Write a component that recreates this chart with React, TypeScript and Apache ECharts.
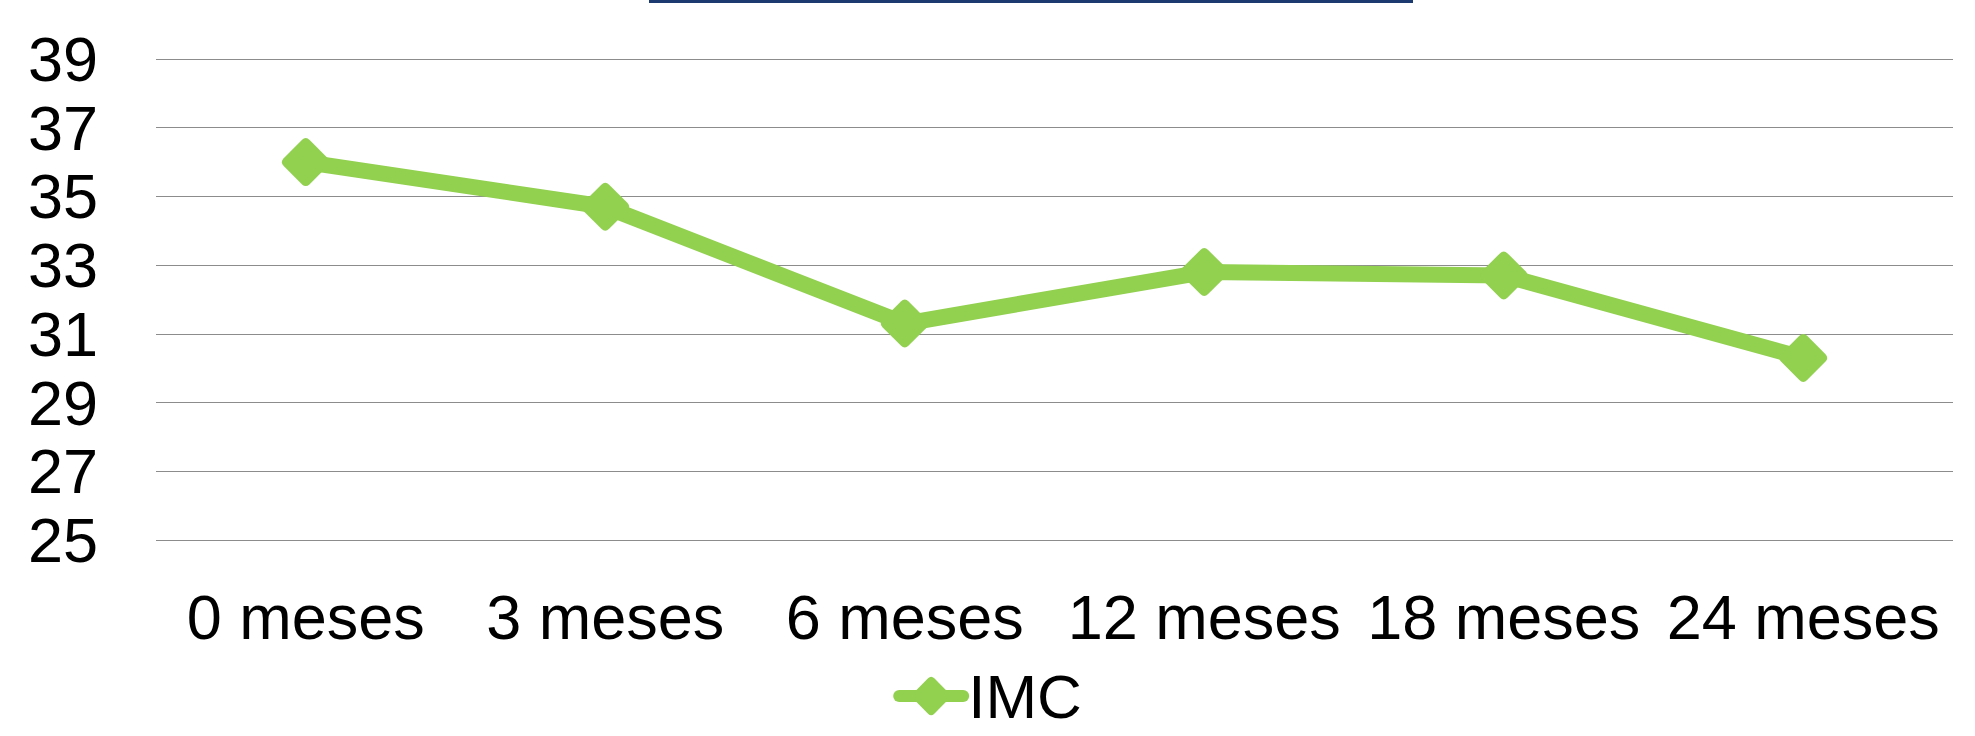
import React, { useEffect, useRef } from "react";
import * as echarts from "echarts";

const categories = ["0 meses", "3 meses", "6 meses", "12 meses", "18 meses", "24 meses"];
const imcValues = [36.0, 34.7, 31.3, 32.8, 32.7, 30.3];
const seriesName = "IMC";
const yMin = 25;
const yMax = 39;
const yStep = 2;

const diamond =
  "path://M-1.5,-8.5 Q0,-10 1.5,-8.5 L8.5,-1.5 Q10,0 8.5,1.5 L1.5,8.5 Q0,10 -1.5,8.5 L-8.5,1.5 Q-10,0 -8.5,-1.5 Z";

export default function App() {
  const ref = useRef<HTMLDivElement>(null);
  useEffect(() => {
    if (!ref.current) return;
    const chart = echarts.init(ref.current, null, { renderer: "svg" });
    const font = "'Liberation Sans', Arial, sans-serif";
    chart.setOption({
      animation: false,
      backgroundColor: "#ffffff",
      textStyle: { fontFamily: font },
      graphic: [
        {
          type: "rect",
          shape: { x: 649, y: 0, width: 764, height: 3 },
          style: { fill: "#1c3a70" },
        },
      ],
      grid: { left: 156, right: 22, top: 59, bottom: 196, containLabel: false },
      legend: {
        data: [seriesName],
        bottom: 4,
        left: "center",
        itemWidth: 64,
        itemHeight: 48,
        itemGap: 10,
        lineStyle: { width: 12, cap: "round" },
        textStyle: { fontSize: 62, color: "#000", fontFamily: font },
      },
      xAxis: {
        type: "category",
        data: categories,
        boundaryGap: true,
        axisLine: { show: false },
        axisTick: { show: false },
        axisLabel: { fontSize: 63, color: "#000", margin: 45, fontFamily: font, interval: 0 },
      },
      yAxis: {
        type: "value",
        min: yMin,
        max: yMax,
        interval: yStep,
        axisLine: { show: false },
        axisTick: { show: false },
        axisLabel: { fontSize: 63, color: "#000", margin: 58, fontFamily: font },
        splitLine: { lineStyle: { color: "#8c8c8c", width: 1.2 } },
      },
      series: [
        {
          name: seriesName,
          type: "line",
          data: imcValues,
          symbol: diamond,
          symbolSize: 48,
          lineStyle: { color: "#92D050", width: 16, cap: "round", join: "round" },
          itemStyle: { color: "#92D050" },
        },
      ],
    });
    return () => chart.dispose();
  }, []);
  return (
    <div
      ref={ref}
      style={{ position: "fixed", left: 0, top: 0, width: 1975, height: 736, background: "#fff" }}
    />
  );
}
